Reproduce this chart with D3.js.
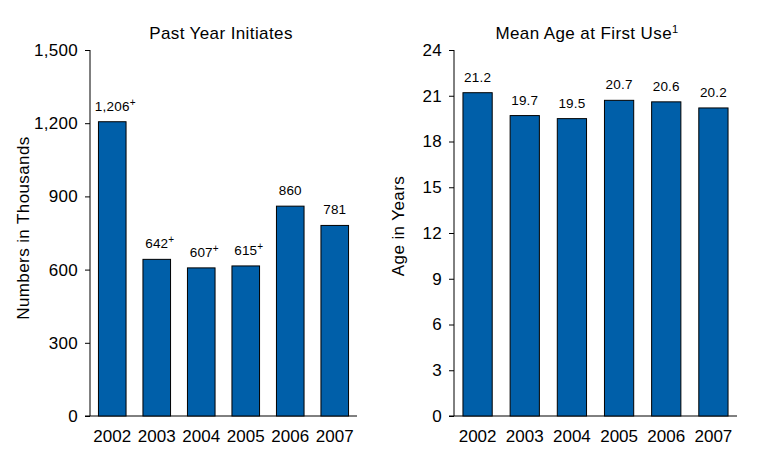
<!DOCTYPE html>
<html>
    <head>
        <script src="https://cdn.jsdelivr.net/npm/d3@7/dist/d3.min.js"></script>
    </head>
    <style>
        body { margin: 0; background: #fff; }
        text { font-family: "Liberation Sans", Arial, sans-serif; fill: #000; }
    </style>
    <body>
        <div id="canvas"></div>
        <script>
            var years = ['2002', '2003', '2004', '2005', '2006', '2007'];
            var initiates = [1206, 642, 607, 615, 860, 781];
            var initiateMarks = ['+', '+', '+', '+', '', ''];
            var meanAge = [21.2, 19.7, 19.5, 20.7, 20.6, 20.2];
            var initiateTicks = [0, 300, 600, 900, 1200, 1500];
            var ageTicks = [0, 3, 6, 9, 12, 15, 18, 21, 24];

            const w = 760;
            const h = 460;
            const barColor = '#005fa9';
            const font = '"Liberation Sans", Arial, sans-serif';

            const svg = d3.select('#canvas')
                .append('svg')
                .attr('width', w)
                .attr('height', h);

            var drawPanel = function(opt) {
                var g = svg.append('g');

                var x = d3.scaleBand()
                    .domain(years)
                    .range([opt.x0, opt.x1])
                    .paddingInner(0.38)
                    .paddingOuter(0.19);

                var y = d3.scaleLinear()
                    .domain([0, opt.max])
                    .range([416, 50]);

                // y axis
                var yAxis = d3.axisLeft(y)
                    .tickValues(opt.ticks)
                    .tickSize(5)
                    .tickPadding(7)
                    .tickFormat(opt.fmt);
                var ya = g.append('g')
                    .attr('transform', `translate(${opt.x0},0)`)
                    .call(yAxis);
                ya.select('.domain').attr('stroke', '#000').attr('d', `M0,${y(opt.max)}V${y(0)}`);
                ya.selectAll('.tick line').attr('stroke', '#000');
                ya.selectAll('.tick text')
                    .attr('font-size', '17px')
                    .attr('letter-spacing', '0.3px')
                    .attr('font-family', font)
                    .attr('fill', '#000');

                // x axis
                var xAxis = d3.axisBottom(x).tickSize(0).tickPadding(14);
                var xa = g.append('g')
                    .attr('transform', `translate(0,${y(0)})`)
                    .call(xAxis);
                xa.select('.domain').attr('stroke', '#000').attr('d', `M${opt.x0 - 5},0H${opt.x1}`);
                xa.selectAll('.tick text')
                    .attr('font-size', '17px')
                    .attr('font-family', font)
                    .attr('fill', '#000');

                // bars
                g.selectAll('rect.bar')
                    .data(opt.values)
                    .enter()
                    .append('rect')
                    .attr('class', 'bar')
                    .attr('x', (d, i) => x(years[i]))
                    .attr('y', d => y(d))
                    .attr('width', x.bandwidth())
                    .attr('height', d => y(0) - y(d))
                    .attr('fill', barColor)
                    .attr('stroke', '#000')
                    .attr('stroke-width', 1);

                // value labels (number centred on bar, "+" hangs to the right)
                var lbl = g.selectAll('text.val')
                    .data(opt.values)
                    .enter()
                    .append('text')
                    .attr('class', 'val')
                    .attr('x', (d, i) => x(years[i]) + x.bandwidth() / 2)
                    .attr('y', d => y(d) - 11)
                    .attr('text-anchor', 'middle')
                    .attr('font-size', '13.5px')
                    .attr('letter-spacing', '0.2px')
                    .text(d => opt.labelFmt(d));
                if (opt.marks) {
                    lbl.each(function(d, i) {
                        var node = this;
                        var half = node.getComputedTextLength() / 2;
                        g.append('text')
                            .attr('x', +d3.select(node).attr('x') + half)
                            .attr('y', y(d) - 16)
                            .attr('font-size', '10px')
                            .text(opt.marks[i]);
                    });
                }

                // title
                var t = g.append('text')
                    .attr('x', opt.titleX)
                    .attr('y', 39)
                    .attr('text-anchor', 'middle')
                    .attr('font-size', '17px')
                    .attr('letter-spacing', '0.4px');
                t.append('tspan').text(opt.title);
                if (opt.titleSup) {
                    t.append('tspan').attr('dy', -6).attr('font-size', '11px').text(opt.titleSup);
                }

                // y title
                g.append('text')
                    .attr('transform', `translate(${opt.yTitleX},${opt.yTitleY}) rotate(-90)`)
                    .attr('text-anchor', 'middle')
                    .attr('font-size', '17px')
                    .attr('letter-spacing', '0.4px')
                    .text(opt.yTitle);
            };

            drawPanel({
                x0: 90, x1: 357, max: 1500,
                values: initiates,
                marks: initiateMarks,
                ticks: initiateTicks,
                fmt: d3.format(','),
                labelFmt: d3.format(','),
                title: 'Past Year Initiates',
                titleX: 221,
                yTitle: 'Numbers in Thousands',
                yTitleX: 29, yTitleY: 228
            });

            drawPanel({
                x0: 454, x1: 737, max: 24,
                values: meanAge,
                ticks: ageTicks,
                fmt: d3.format('d'),
                labelFmt: d3.format('.1f'),
                title: 'Mean Age at First Use',
                titleSup: '1',
                titleX: 587,
                yTitle: 'Age in Years',
                yTitleX: 404, yTitleY: 226
            });
        </script>
    </body>
</html>
